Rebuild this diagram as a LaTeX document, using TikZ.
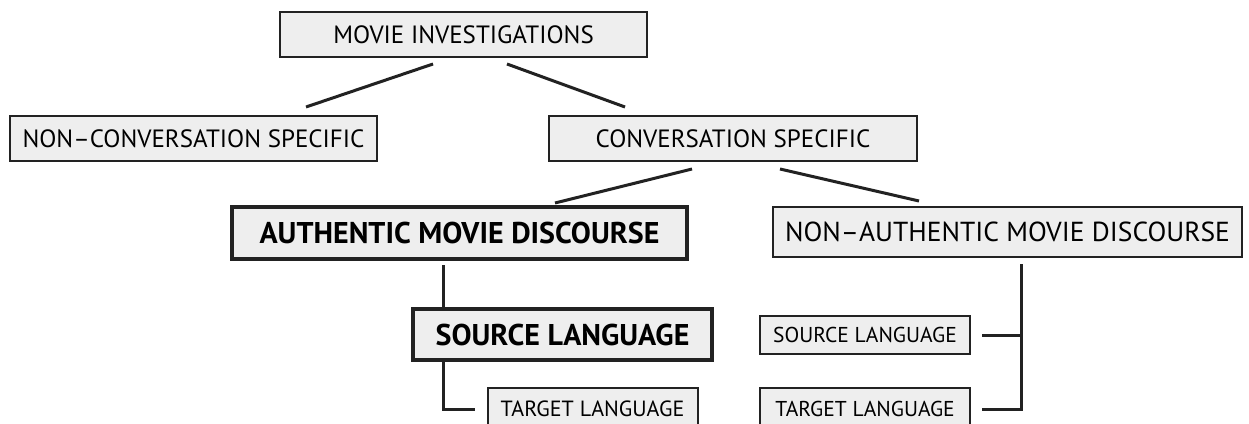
\documentclass[tikz,border=0pt]{standalone}
\usepackage{fontspec}
\setmainfont{PT Sans}
\usetikzlibrary{positioning,calc}
\definecolor{boxFill}{HTML}{EEEEEE}
\definecolor{lineColor}{HTML}{222222}
\tikzset{
	box/.style={draw=lineColor, fill=boxFill, line width=2pt, inner sep=0pt,
		outer sep=0pt, minimum height=45pt, font=\fontsize{25}{30}\selectfont},
	key box/.style={box, line width=4.5pt, font=\fontsize{30}{34}\selectfont\bfseries},
	small box/.style={box, minimum width=210pt, minimum height=42pt,
		font=\fontsize{21.5}{25}\selectfont},
	link/.style={draw=lineColor, line width=3pt}
}

\begin{document}
\begin{tikzpicture}[x=1pt, y=-1pt]
	\clip (0,0) rectangle (1249,423);
	\fill[white] (0,0) rectangle (1249,423);
	\node[box, minimum width=367pt] (mov) at (463.5, 34.5) {MOVIE INVESTIGATIONS};
	\node[box, minimum width=367pt] (nonconv) at (193.5, 138.5) {NON–CONVERSATION SPECIFIC};
	\node[box, minimum width=368pt] (conv) at (733, 138.5) {CONVERSATION SPECIFIC};
	\node[key box, minimum width=455pt, minimum height=52pt] (auth) at (459.5, 233) {AUTHENTIC MOVIE DISCOURSE};
	\node[box, minimum width=469pt, minimum height=50pt, font=\fontsize{27.5}{32}\selectfont] (nonauth) at (1007.5, 232) {NON–AUTHENTIC MOVIE DISCOURSE};
	\node[key box, minimum width=299pt, minimum height=51pt] (srcA) at (562.5, 334.5) {SOURCE LANGUAGE};
	\node[small box, font=\fontsize{22}{26}\selectfont] (tgtA) at (592.5, 409) {TARGET LANGUAGE};
	\node[small box, minimum height=38pt] (srcN) at (865, 335) {SOURCE LANGUAGE};
	\node[small box] (tgtN) at (865, 409) {TARGET LANGUAGE};

	\draw[link] ($(mov.south)+(-30.5,7)$) -- ($(nonconv.north)+(112.5,-9)$);
	\draw[link] ($(mov.south)+(43.5,7)$) -- ($(conv.north)+(-108,-9)$);
	\draw[link] ($(conv.south)+(-41,8)$) -- ($(auth.north)+(95.5,-4)$);
	\draw[link] ($(conv.south)+(47,8)$) -- ($(nonauth.north)+(-88.5,-6)$);

	\coordinate (a1) at ($(auth.south)+(-16.5,6)$);
	\draw[link] (a1) -- (a1 |- srcA.north);
	\draw[link, shorten >=13pt] (a1 |- srcA.south) -- (a1 |- tgtA.west) -- (tgtA.west);

	\coordinate (n1) at ($(nonauth.south)+(13.5,7)$);
	\draw[link, shorten >=12pt] (n1) -- (n1 |- tgtN.east) -- (tgtN.east);
	\draw[link, shorten <=12pt] (srcN.east) -- (srcN.east -| n1);
\end{tikzpicture}
\end{document}
